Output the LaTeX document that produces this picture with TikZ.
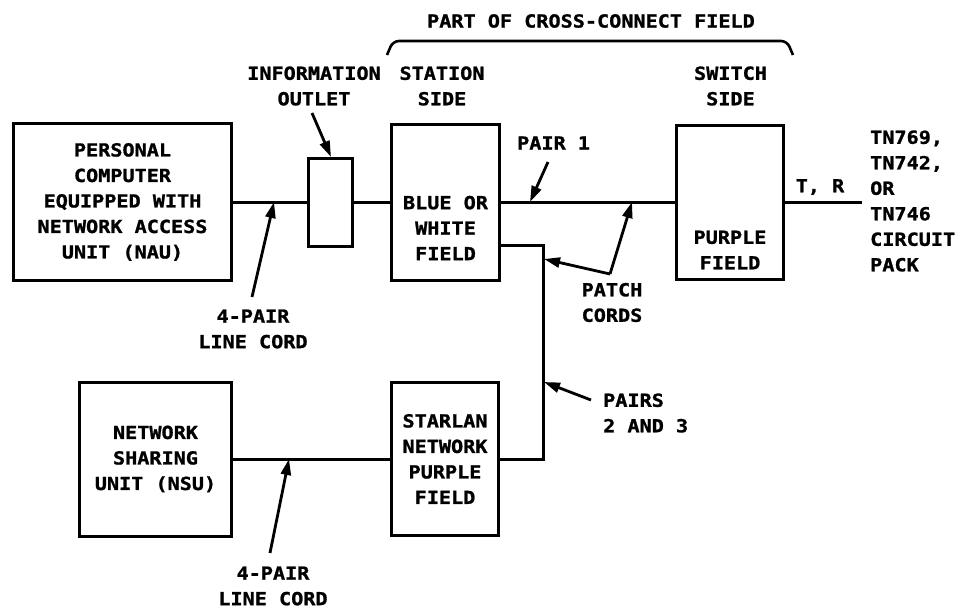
\documentclass[tikz,border=0pt]{standalone}
\usepackage{fontspec}
\newfontfamily\lblfont{DejaVu Sans Mono}[FakeStretch=1.12,FakeBold=1.2]
\usetikzlibrary{arrows.meta}
\begin{document}
\begin{tikzpicture}[x=1pt,y=-1pt,
  box/.style={draw, line width=3pt, inner sep=0pt, minimum width=#1},
  lbl/.style={font=\lblfont\bfseries\fontsize{18}{25.5}\selectfont, align=center, inner sep=0pt},
  wire/.style={line width=3pt},
  pointer/.style={line width=2.8pt, -{Triangle[length=16pt,width=10pt]}}]
\path[use as bounding box] (0,0) rectangle (956,610);
% boxes
\node[box=218, minimum height=157] (pc) at (122.5,202) {};
\node[box=44, minimum height=88] (outlet) at (330.5,202) {};
\node[box=108, minimum height=156] (station) at (445.5,202) {};
\node[box=107, minimum height=154] (switch) at (730,202) {};
\node[box=107, minimum height=153] (starlan) at (445,459) {};
\node[box=152, minimum height=154] (nsu) at (155.5,459) {};
% texts
\node[lbl] (title) at (591,21) {PART OF CROSS-CONNECT FIELD};
\node[lbl] (info) at (314,86) {INFORMATION\\OUTLET};
\node[lbl] (stside) at (442,86) {STATION\\SIDE};
\node[lbl] (swside) at (730.5,86) {SWITCH\\SIDE};
\node[lbl] (pctext) at (pc) {PERSONAL\\COMPUTER\\EQUIPPED WITH\\NETWORK ACCESS\\UNIT (NAU)};
\node[lbl] (cord1) at (253,329) {4-PAIR\\LINE CORD};
\node[lbl] (sttext) at (445.5,228) {BLUE OR\\WHITE\\FIELD};
\node[lbl, anchor=west] (pair1) at (517,143) {PAIR 1};
\node[lbl] (swtext) at (730,250) {PURPLE\\FIELD};
\node[lbl] (tr) at (820,187) {T, R};
\node[lbl, align=left, anchor=west] (pack) at (870,201) {TN769,\\TN742,\\OR\\TN746\\CIRCUIT\\PACK};
\node[lbl] (patch) at (612,302.5) {PATCH\\CORDS};
\node[lbl, align=left, anchor=west] (pairs) at (603,413) {PAIRS\\2 AND 3};
\node[lbl] (sltext) at (starlan) {STARLAN\\NETWORK\\PURPLE\\FIELD};
\node[lbl] (nsutext) at (nsu) {NETWORK\\SHARING\\UNIT (NSU)};
\node[lbl] (cord2) at (273,586) {4-PAIR\\LINE CORD};
% brace
\draw[line width=2.6pt, rounded corners=6pt] (387,55) -- (393,41) -- (787,41) -- (793,55);
% wires
\coordinate (trend) at (862,202);
\coordinate (bend) at (543,459);
\draw[wire] (pc.east) -- (outlet.west);
\draw[wire] (outlet.east) -- (station.west);
\draw[wire] (station.east) -- (switch.west);
\draw[wire] (switch.east) -- (trend);
\draw[wire] (station.east |- 0,245) -| (bend) -- (starlan.east);
\draw[wire] (nsu.east) -- (starlan.west);
% pointers
\coordinate (a1t) at (312,113); \coordinate (a1h) at (331,157);
\coordinate (a2t) at (252,297); \coordinate (a2h) at (274,202);
\coordinate (a3t) at (548,162); \coordinate (a3h) at (530,202);
\coordinate (pco) at (610,274);
\coordinate (a4h) at (632,202); \coordinate (a5h) at (544,259);
\coordinate (a6t) at (591,400); \coordinate (a6h) at (544,382);
\coordinate (a7t) at (270,553); \coordinate (a7h) at (289,459);
\draw[pointer] (a1t) -- (a1h);
\draw[pointer] (a2t) -- (a2h);
\draw[pointer] (a3t) -- (a3h);
\draw[pointer] (pco) -- (a4h);
\draw[pointer] (pco) -- (a5h);
\draw[pointer] (a6t) -- (a6h);
\draw[pointer] (a7t) -- (a7h);
\end{tikzpicture}
\end{document}
